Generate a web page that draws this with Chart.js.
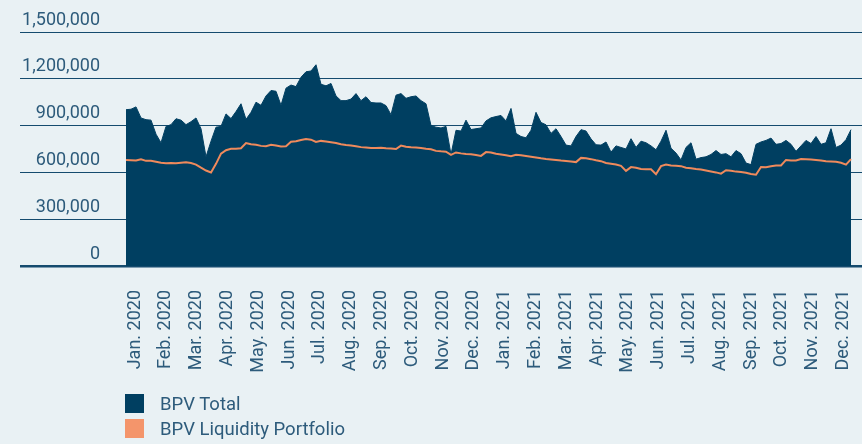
<!DOCTYPE html>
<html>
<head>
<meta charset="utf-8">
<script src="https://cdn.jsdelivr.net/npm/chart.js@4/dist/chart.umd.min.js"></script>
<style>
  body { margin: 0; background: #e9f1f4; }
  #wrap { position: relative; width: 862px; height: 444px; }
  #legend { position: absolute; left: 125px; top: 391px; font: 18.5px Roboto, sans-serif; color: #2d5b7b; }
  .item { display: flex; align-items: center; height: 25px; }
  .box { width: 19px; height: 19px; margin-right: 16px; }
</style>
</head>
<body>
<div id="wrap">
  <canvas id="chart" width="862" height="444"></canvas>
  <div id="legend"></div>
</div>
<script>
const MONTHS = [
  'Jan. 2020', 'Feb. 2020', 'Mar. 2020', 'Apr. 2020', 'May. 2020', 'Jun. 2020',
  'Jul. 2020', 'Aug. 2020', 'Sep. 2020', 'Oct. 2020', 'Nov. 2020', 'Dec. 2020',
  'Jan. 2021', 'Feb. 2021', 'Mar. 2021', 'Apr. 2021', 'May. 2021', 'Jun. 2021',
  'Jul. 2021', 'Aug. 2021', 'Sep. 2021', 'Oct. 2021', 'Nov. 2021', 'Dec. 2021'
];

const Y_TICKS = [0, 300000, 600000, 900000, 1200000, 1500000];

// BPV values in thousands, sampled evenly over Jan 2020 - Dec 2021
const BPV_TOTAL = [
  1002, 1005, 1020, 949, 938, 935, 845, 790, 895, 906,
  944, 935, 906, 925, 949, 880, 700, 800, 890, 895,
  975, 945, 990, 1040, 940, 985, 1050, 1030, 1090, 1125,
  1120, 1030, 1140, 1160, 1150, 1210, 1245, 1250, 1290, 1165,
  1155, 1170, 1090, 1060, 1060, 1070, 1105, 1060, 1085, 1048,
  1045, 1045, 1028, 970, 1095, 1105, 1075, 1085, 1090, 1060,
  1040, 900, 890, 885, 895, 715, 870, 865, 935, 875,
  880, 885, 930, 950, 958, 965, 930, 1010, 850, 830,
  822, 870, 985, 920, 905, 850, 880, 830, 775, 770,
  830, 874, 865, 815, 777, 775, 795, 730, 770, 760,
  750, 816, 760, 800, 790, 770, 745, 800, 870, 755,
  724, 680, 760, 790, 685, 695, 700, 715, 740, 715,
  720, 700, 740, 720, 660, 650, 780, 795, 805, 820,
  780, 785, 805, 780, 735, 770, 805, 785, 830, 780,
  790, 880, 760, 775, 810, 874
];

const BPV_LIQUIDITY = [
  680, 678, 676, 684, 674, 674, 668, 662, 659, 661,
  659, 662, 665, 660, 650, 630, 612, 600, 655, 720,
  742, 752, 752, 755, 788, 780, 777, 770, 768, 777,
  772, 766, 768, 796, 800, 808, 814, 810, 795, 802,
  798, 793, 788, 780, 775, 772, 768, 762, 760, 756,
  756, 758, 755, 753, 750, 772, 765, 762, 760, 757,
  752, 748, 738, 735, 733, 712, 728, 722, 718, 716,
  712, 706, 730, 728, 720, 715, 710, 704, 713, 710,
  705, 700, 695, 690, 686, 683, 680, 676, 673, 670,
  666, 693, 690, 685, 678, 672, 660, 655, 650, 642,
  610, 634, 630, 622, 620, 620, 588, 640, 650, 645,
  643, 640, 630, 627, 622, 618, 612, 606, 600, 592,
  614, 610, 605, 603, 598, 590, 585, 635, 633, 640,
  644, 644, 680, 677, 676, 686, 684, 682, 680, 676,
  672, 670, 668, 662, 650, 685
];

const TEXT = '#2d5b7b';
const GRID = '#154b6e';

const toPoints = (arr) => arr.map((v, i) => ({ x: i, y: v * 1000 }));

const main = () => {
  const canvas = document.getElementById('chart');
  const last = BPV_TOTAL.length - 1;

  const data = {
    datasets: [{
      label: 'BPV Total',
      data: toPoints(BPV_TOTAL),
      backgroundColor: '#003f61',
      borderColor: '#003f61',
      borderWidth: 1,
      fill: 'origin',
      pointRadius: 0,
      order: 1
    },
    {
      label: 'BPV Liquidity Portfolio',
      data: toPoints(BPV_LIQUIDITY),
      backgroundColor: '#f4956b',
      borderColor: '#ef8a5c',
      borderWidth: 2,
      fill: false,
      pointRadius: 0,
      order: 0
    }]
  };

  const options = {
    responsive: false,
    animation: false,
    devicePixelRatio: 1,
    layout: { padding: { left: 20, top: 32, right: 0, bottom: 68 } },
    plugins: { legend: { display: false }, tooltip: { enabled: false } },
    scales: {
      x: {
        type: 'linear',
        min: 0,
        max: last * 736 / 725,
        grid: { display: false },
        border: { display: false },
        afterBuildTicks: (scale) => {
          scale.ticks = MONTHS.map((m, k) => ({ value: 1.8 + k * 6.16 }));
        },
        afterFit: (scale) => {
          scale.height = 110;
          scale.paddingLeft = 0;
          scale.paddingRight = 0;
        },
        ticks: {
          autoSkip: false,
          minRotation: 90,
          maxRotation: 90,
          padding: 16,
          color: TEXT,
          font: { family: 'Roboto', size: 18 },
          callback: (value, index) => MONTHS[index]
        }
      },
      y: {
        min: 0,
        max: 1500000,
        afterBuildTicks: (scale) => {
          scale.ticks = Y_TICKS.map(v => ({ value: v }));
        },
        afterFit: (scale) => { scale.width = 106; },
        border: { display: false },
        grid: {
          color: GRID,
          tickColor: GRID,
          tickLength: 106,
          lineWidth: (ctx) => ctx.tick && ctx.tick.value === 0 ? 2.5 : 1
        },
        ticks: {
          padding: -80,
          labelOffset: -12,
          color: TEXT,
          font: { family: 'Roboto', size: 18 },
          callback: (value) => value.toLocaleString('en-US')
        }
      }
    }
  };

  const chart = new Chart(canvas, { type: 'line', data, options });

  // legend below the chart, in dataset order
  const legend = document.getElementById('legend');
  chart.data.datasets.forEach(ds => {
    const item = document.createElement('div');
    item.className = 'item';
    item.innerHTML = `<span class="box" style="background:${ds.backgroundColor}"></span><span>${ds.label}</span>`;
    legend.appendChild(item);
  });
}

main();
</script>
</body>
</html>
